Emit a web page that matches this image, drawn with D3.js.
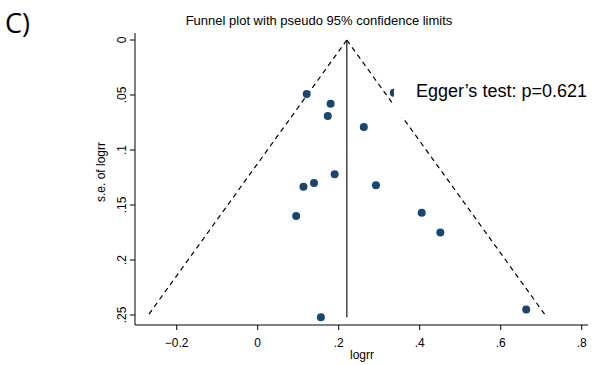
<!DOCTYPE html>
<html>
<head>
<meta charset="utf-8">
<script src="https://cdn.jsdelivr.net/npm/d3@7"></script>
<style>
  body { margin: 0; background: #fff; }
  svg { display: block; }
</style>
</head>
<body>
<div id="chart"></div>
<script>
// study estimates
const logrr = [0.121, 0.336, 0.180, 0.173, 0.262, 0.190, 0.139, 0.113, 0.292, 0.095, 0.405, 0.451, 0.156, 0.663];
const se    = [0.049, 0.048, 0.058, 0.069, 0.079, 0.122, 0.130, 0.1334, 0.132, 0.160, 0.157, 0.175, 0.252, 0.245];
const pooled = 0.22;
const seMax = 0.252;
const xTicks = [-0.2, 0, 0.2, 0.4, 0.6, 0.8];
const yTicks = [0, 0.05, 0.1, 0.15, 0.2, 0.25];

const width = 593, height = 365;
const svg = d3.select("#chart").append("svg")
  .attr("width", width).attr("height", height);

const x = d3.scaleLinear().domain([-0.2, 0.8]).range([176.7, 581.7]);
const y = d3.scaleLinear().domain([0, 0.25]).range([40, 315]);

// stata style: ".2", "-.2", "0"
const fmt = d => d === 0 ? "0" : d3.format("~g")(d).replace(/^(-?)0\./, "$1.");
const font = "'Liberation Sans', Arial, sans-serif";

// axes
const xAxisY = 325, yAxisX = 135;
svg.append("line").attr("x1", yAxisX).attr("x2", 588).attr("y1", xAxisY).attr("y2", xAxisY)
  .attr("stroke", "#000").attr("stroke-width", 1);
svg.append("line").attr("x1", yAxisX).attr("x2", yAxisX).attr("y1", 33).attr("y2", xAxisY)
  .attr("stroke", "#000").attr("stroke-width", 1);

xTicks.forEach(t => {
  svg.append("line").attr("x1", x(t)).attr("x2", x(t)).attr("y1", xAxisY).attr("y2", xAxisY + 5)
    .attr("stroke", "#000");
  svg.append("text").attr("x", x(t)).attr("y", 347).attr("text-anchor", "middle")
    .style("font-family", font).style("font-size", "12px").text(fmt(t));
});
yTicks.forEach(t => {
  svg.append("line").attr("x1", yAxisX - 5).attr("x2", yAxisX).attr("y1", y(t)).attr("y2", y(t))
    .attr("stroke", "#000");
  svg.append("text").attr("transform", `translate(126,${y(t)}) rotate(-90)`)
    .attr("text-anchor", "middle")
    .style("font-family", font).style("font-size", "12px").text(fmt(t));
});

svg.append("text").attr("x", 362).attr("y", 359).attr("text-anchor", "middle")
  .style("font-family", font).style("font-size", "12px").text("logrr");
svg.append("text").attr("transform", "translate(105,172) rotate(-90)")
  .attr("text-anchor", "middle")
  .style("font-family", font).style("font-size", "12px").text("s.e. of logrr");

// funnel
const z = 1.96;
svg.append("line").attr("x1", x(pooled)).attr("x2", x(pooled)).attr("y1", y(0)).attr("y2", y(seMax))
  .attr("stroke", "#444").attr("stroke-width", 1.5);
[pooled - z * seMax, pooled + z * seMax].forEach(xe => {
  svg.append("line").attr("x1", x(pooled)).attr("y1", y(0)).attr("x2", x(xe)).attr("y2", y(seMax))
    .attr("stroke", "#000").attr("stroke-width", 1.2).attr("stroke-dasharray", "5,4");
});

// points
svg.append("g").selectAll("circle").data(logrr).join("circle")
  .attr("cx", d => x(d)).attr("cy", (d, i) => y(se[i])).attr("r", 4)
  .attr("fill", "#1a476f");

// Egger annotation with white box
svg.append("rect").attr("x", 394).attr("y", 78).attr("width", 199).attr("height", 39).attr("fill", "#fff");
svg.append("text").attr("x", 416).attr("y", 97)
  .style("font-family", font).style("font-size", "18px").text("Egger’s test: p=0.621");

// title
svg.append("text").attr("x", 319).attr("y", 25).attr("text-anchor", "middle")
  .style("font-family", font).style("font-size", "13px").text("Funnel plot with pseudo 95% confidence limits");

// panel label
svg.append("text").attr("x", 5).attr("y", 33)
  .style("font-family", "'Open Sans', sans-serif").style("font-size", "27px").text("C)");
</script>
</body>
</html>
